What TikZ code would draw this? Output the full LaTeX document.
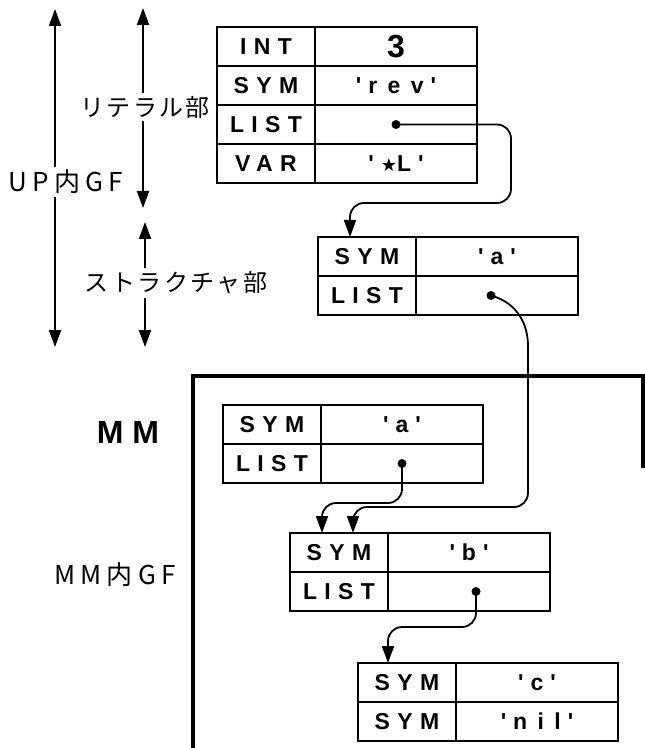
\documentclass[tikz,border=0pt]{standalone}
\usepackage{fontspec}
\setmainfont{Liberation Sans}
\newfontfamily\cellfont[LetterSpace=32]{Liberation Sans}
\newfontfamily\valfont[LetterSpace=45]{Liberation Sans}
\newfontfamily\jpfont[LetterSpace=10]{Noto Sans CJK JP}
\newfontfamily\jpwide[LetterSpace=20]{Noto Sans CJK JP}
\newfontfamily\symfont{DejaVu Sans}
\newcommand\ql{\textquotesingle\hspace{3.5pt}}
\newcommand\qr{\hspace{3.5pt}\textquotesingle}
\usetikzlibrary{arrows.meta,positioning}

\begin{document}
\begin{tikzpicture}[x=0.5pt, y=-0.5pt,
  cell/.style={draw, line width=1.1pt, outer sep=0pt, inner sep=0pt,
    minimum height=19.5pt, font=\cellfont\bfseries\fontsize{11.5}{13}\selectfont},
  key/.style={cell, minimum width=49pt},
  val/.style={cell, minimum width=81pt, font=\valfont\bfseries\fontsize{11.5}{13}\selectfont},
  dot/.style={circle, fill, inner sep=0pt, minimum size=4.5pt},
  link/.style={-{Triangle[length=8.5pt,width=6pt]}, line width=0.9pt, rounded corners=7pt},
  dimarr/.style={-{Triangle[length=8.5pt,width=6pt]}, line width=1pt},
  jplbl/.style={font=\jpfont\fontsize{12}{14}\selectfont, inner sep=1.5pt},
  gflbl/.style={font=\jpwide\fontsize{13}{15}\selectfont, inner sep=1.5pt}
]
\useasboundingbox (0,0) rectangle (644,748);

% literal part of UP
\node[key, anchor=north west] (lit1k) at (217,27) {INT};
\node[val, right=0pt of lit1k] (lit1v) {\fontsize{16}{16}\selectfont 3};
\node[key, below=0pt of lit1k] (lit2k) {SYM};
\node[val, right=0pt of lit2k] (lit2v) {\ql rev\qr};
\node[key, below=0pt of lit2k] (lit3k) {LIST};
\node[val, right=0pt of lit3k] (lit3v) {};
\node[key, below=0pt of lit3k] (lit4k) {VAR};
\node[val, right=0pt of lit4k] (lit4v) {\ql{\symfont\fontsize{9}{9}\selectfont ★}L\qr};

% structure part of UP
\node[key, anchor=north west] (st1k) at (318,237) {SYM};
\node[val, right=0pt of st1k] (st1v) {\ql a\qr};
\node[key, below=0pt of st1k] (st2k) {LIST};
\node[val, right=0pt of st2k] (st2v) {};

% MM
\draw[line width=1.6pt] (643,468) -- (643,376) -- (193,376) -- (193,748);
\node[font=\bfseries\fontsize{16}{18}\selectfont] (mm) at (128,432) {M M};

\node[key, anchor=north west] (mma1k) at (223,405) {SYM};
\node[val, right=0pt of mma1k] (mma1v) {\ql a\qr};
\node[key, below=0pt of mma1k] (mma2k) {LIST};
\node[val, right=0pt of mma2k] (mma2v) {};

\node[key, anchor=north west] (mmb1k) at (290,533) {SYM};
\node[val, right=0pt of mmb1k] (mmb1v) {\ql b\qr};
\node[key, below=0pt of mmb1k] (mmb2k) {LIST};
\node[val, right=0pt of mmb2k] (mmb2v) {};

\node[key, anchor=north west] (mmc1k) at (358,663) {SYM};
\node[val, right=0pt of mmc1k] (mmc1v) {\ql c\qr};
\node[key, below=0pt of mmc1k] (mmc2k) {SYM};
\node[val, right=0pt of mmc2k] (mmc2v) {\ql nil\qr};

% pointers
\node[dot] (d1) at (lit3v) {};
\node[dot, xshift=-3pt] (d2) at (st2v) {};
\node[dot] (d3) at (mma2v) {};
\node[dot, xshift=3.5pt] (d4) at (mmb2v) {};

\draw[link] (d1.center) -| (511,203) -| ([xshift=-8.5pt]st1k.north);
\draw[link] (d2.center) .. controls (518,303) and (528,325) .. (528,360)
  -- (528,507) -| ([xshift=7pt]mmb1k.north);
\draw[link] (d3.center) |- ([xshift=-8.5pt,yshift=15pt]mmb1k.north)
  -- ([xshift=-8.5pt]mmb1k.north);
\draw[link] (d4.center) |- ([xshift=-9.5pt,yshift=18pt]mmc1k.north)
  -- ([xshift=-9.5pt]mmc1k.north);

% extents on the left
\node[gflbl] (uplbl) at (66,182) {UP内GF};
\coordinate (upTop) at (55,9);
\coordinate (upBot) at (55,347);
\draw[dimarr] (upTop |- uplbl.north) -- (upTop);
\draw[dimarr] (upBot |- uplbl.south) -- (upBot);

\node[jplbl] (litlbl) at (145,107) {リテラル部};
\coordinate (litTop) at (143,8);
\coordinate (litBot) at (143,208);
\draw[dimarr] (litTop |- litlbl.north) -- (litTop);
\draw[dimarr] (litBot |- litlbl.south) -- (litBot);

\node[jplbl] (stlbl) at (176,283) {ストラクチャ部};
\coordinate (stTop) at (145,222);
\coordinate (stBot) at (145,347);
\draw[dimarr] (stTop |- stlbl.north) -- (stTop);
\draw[dimarr] (stBot |- stlbl.south) -- (stBot);

\node[gflbl] (mmlbl) at (115,575) {MM内GF};
\end{tikzpicture}
\end{document}
